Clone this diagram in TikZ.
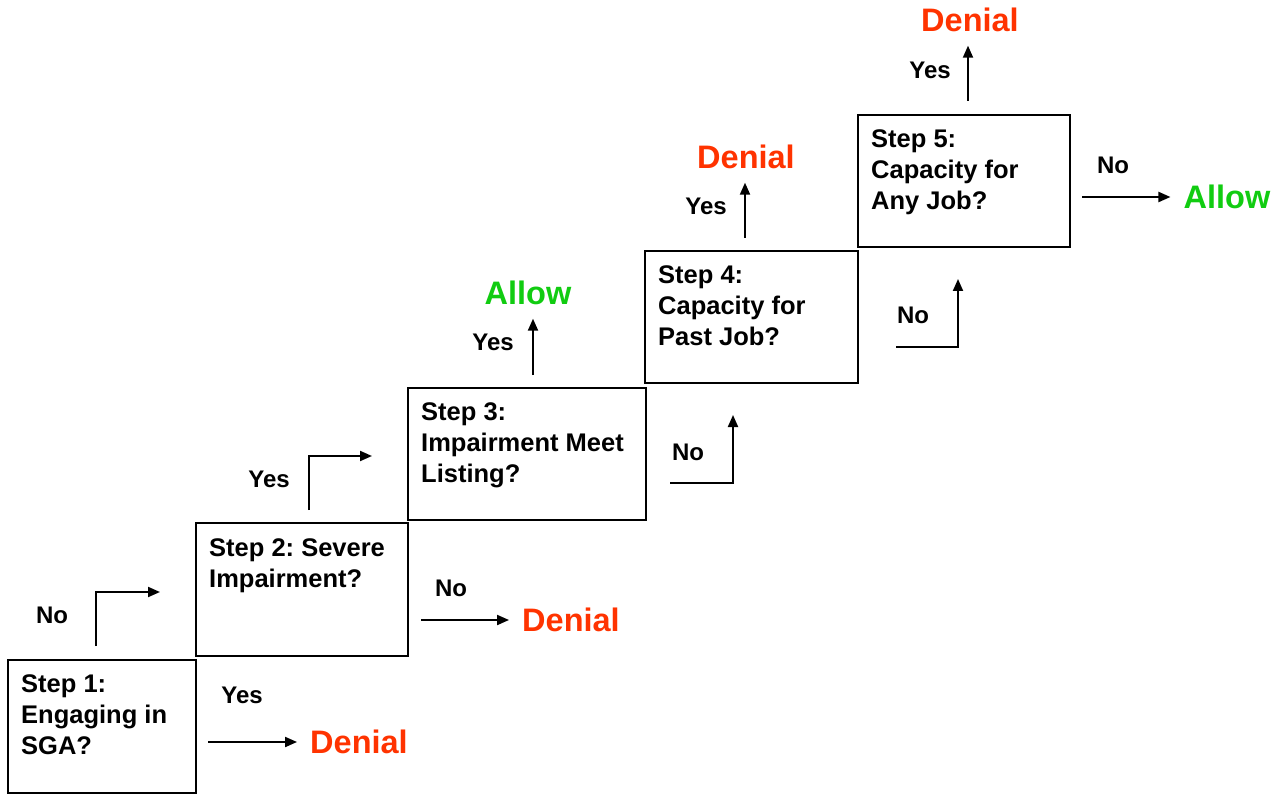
\documentclass[tikz,border=0pt]{standalone}
\usepackage{fontspec}
\setmainfont{Liberation Sans}
\usetikzlibrary{arrows.meta}
\definecolor{denred}{HTML}{FF3300}
\definecolor{allgreen}{HTML}{11CC11}
\frenchspacing
\begin{document}
\begin{tikzpicture}[x=1pt,y=-1pt,
  stepbox/.style={draw=black,line width=2pt,minimum width=#1,inner sep=0pt},
  steptext/.style={anchor=north west,inner sep=0pt,align=left,font=\fontsize{25.5}{31}\selectfont\bfseries\frenchspacing},
  lbl/.style={inner sep=0pt,font=\fontsize{24}{28}\selectfont\bfseries},
  outcome/.style={inner xsep=13pt,inner ysep=14pt,text height=23pt,text depth=0pt,font=\fontsize{32.5}{36}\selectfont\bfseries},
  deny/.style={outcome,text=denred},
  allow/.style={outcome,text=allgreen},
  arr/.style={line width=2pt,-{Triangle[length=12pt,width=10pt]}}
]
\useasboundingbox (0,0) rectangle (1285,794);
% boxes
\node[stepbox=188pt,minimum height=133pt] (b1) at (102,726.5) {};
\node[stepbox=212pt,minimum height=133pt] (b2) at (302,589.5) {};
\node[stepbox=238pt,minimum height=132pt] (b3) at (527,454) {};
\node[stepbox=213pt,minimum height=132pt] (b4) at (751.5,317) {};
\node[stepbox=212pt,minimum height=132pt] (b5) at (964,181) {};
% box texts
\node[steptext] (t1) at ([shift={(14,15)}]b1.north west) {Step 1:\\Engaging in\\SGA?};
\node[steptext] (t2) at ([shift={(14,16)}]b2.north west) {Step 2: Severe\\Impairment?};
\node[steptext] (t3) at ([shift={(14,15)}]b3.north west) {Step 3:\\Impairment Meet\\Listing?};
\node[steptext] (t4) at ([shift={(14,15)}]b4.north west) {Step 4:\\Capacity for\\Past Job?};
\node[steptext] (t5) at ([shift={(14,15)}]b5.north west) {Step 5:\\Capacity for\\Any Job?};
% outcomes
\node[deny] (o1) at (359,742) {Denial};
\node[deny] (o2) at (571,620) {Denial};
\node[allow] (o3) at (528,293) {Allow};
\node[deny] (o4) at (746,157) {Denial};
\node[deny] (o5) at (970,20) {Denial};
\node[allow] (o6) at (1227,197) {Allow};
% labels
\node[lbl] (l1n) at (52,615) {No};
\node[lbl] (l1y) at (242,695) {Yes};
\node[lbl] (l2y) at (269,479) {Yes};
\node[lbl] (l2n) at (451,588) {No};
\node[lbl] (l3y) at (493,342) {Yes};
\node[lbl] (l3n) at (688,452) {No};
\node[lbl] (l4y) at (706,206) {Yes};
\node[lbl] (l4n) at (913,315) {No};
\node[lbl] (l5y) at (930,70) {Yes};
\node[lbl] (l5n) at (1113,165) {No};
% connector coordinates
\coordinate (s1n) at (96,646);
\coordinate (e1n) at (160,592);
\coordinate (s1y) at (208,742);
\coordinate (s2y) at (309,510);
\coordinate (e2y) at (372,456);
\coordinate (s2n) at (421,620);
\coordinate (s3y) at (533,375);
\coordinate (s3n) at (670,483);
\coordinate (e3n) at (733,415);
\coordinate (s4y) at (745,238);
\coordinate (s4n) at (896,347);
\coordinate (e4n) at (958,279);
\coordinate (s5y) at (968,101);
\coordinate (s5n) at (1082,197);
% connectors
\draw[arr] (s1n) |- (e1n);
\draw[arr] (s1y) -- (o1.west);
\draw[arr] (s2y) |- (e2y);
\draw[arr] (s2n) -- (o2.west);
\draw[arr] (s3y) -- (s3y |- o3.south);
\draw[arr] (s3n) -| (e3n);
\draw[arr] (s4y) -- (s4y |- o4.south);
\draw[arr] (s4n) -| (e4n);
\draw[arr] (s5y) -- (s5y |- o5.south);
\draw[arr] (s5n) -- (o6.west);
\end{tikzpicture}
\end{document}
